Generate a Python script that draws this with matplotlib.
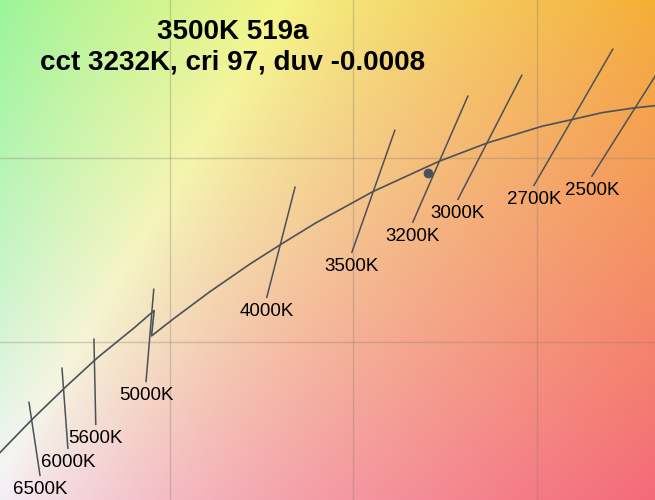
import numpy as np
import matplotlib.pyplot as plt

# chromaticity (CIE 1931 x, y) window shown in the picture
x_lim = (0.3037, 0.4822)
y_lim = (0.3069, 0.4431)

# daylight locus (left of 5000K) and planckian locus (5000K and below)
day_x = [0.2990, 0.3054, 0.3128, 0.3217, 0.3302, 0.3324, 0.3405, 0.3457]
day_y = [0.3149, 0.3216, 0.3292, 0.3378, 0.3456, 0.3474, 0.3540, 0.3585]
planck_x = [0.3450, 0.3509, 0.3607, 0.3720, 0.3805, 0.3898, 0.4053, 0.4232,
            0.4366, 0.4514, 0.4599, 0.4677, 0.4765, 0.4857]
planck_y = [0.3516, 0.3562, 0.3635, 0.3713, 0.3767, 0.3824, 0.3909, 0.3991,
            0.4042, 0.4087, 0.4106, 0.4124, 0.4137, 0.4147]

# isotherm lines: (top x, top y) -> (bottom x, bottom y)
iso_labels = ['6500K', '6000K', '5600K', '5000K', '4000K', '3500K',
              '3200K', '3000K', '2700K', '2500K']
iso_top_x = [0.3116, 0.3206, 0.3293, 0.3456, 0.3841, 0.4113, 0.4312, 0.4459, 0.4707, 0.4879]
iso_top_y = [0.3335, 0.3428, 0.3507, 0.3643, 0.3921, 0.4076, 0.4169, 0.4226, 0.4297, 0.4313]
iso_bot_x = [0.3146, 0.3222, 0.3298, 0.3435, 0.3764, 0.3996, 0.4162, 0.4285, 0.4492, 0.4650]
iso_bot_y = [0.3136, 0.3210, 0.3275, 0.3392, 0.3621, 0.3744, 0.3826, 0.3888, 0.3926, 0.3951]

# measured sample
sample_x = 0.4203
sample_y = 0.3959

title1 = '3500K 519a'
title2 = 'cct 3232K, cri 97, duv -0.0008'

plt.rcParams['font.family'] = ['Liberation Sans', 'DejaVu Sans']

# colour background from xy -> sRGB
xs = np.linspace(x_lim[0], x_lim[1], 500)
ys = np.linspace(y_lim[0], y_lim[1], 400)
gx, gy = np.meshgrid(xs, ys)
X = gx / gy
Y = np.ones_like(gx)
Z = (1 - gx - gy) / gy
M = np.array([[3.2406, -1.5372, -0.4986],
              [-0.9689, 1.8758, 0.0415],
              [0.0557, -0.2040, 1.0570]])
rgb = np.einsum('ij,jyx->yxi', M, np.stack([X, Y, Z]))
rgb = np.clip(rgb, 0, None)
rgb[..., 2] *= 0.88  # warmer white, like the reference
rgb = rgb / rgb.max(axis=2, keepdims=True)
rgb = np.where(rgb <= 0.0031308, 12.92 * rgb, 1.055 * rgb ** (1 / 2.4) - 0.055)
rgb = rgb * 0.88 + 0.08

fig = plt.figure(figsize=(6.55, 5.0), dpi=100)
ax = fig.add_axes([0, 0, 1, 1])
ax.imshow(rgb, extent=[x_lim[0], x_lim[1], y_lim[0], y_lim[1]],
          origin='lower', aspect='auto', interpolation='bilinear', zorder=0)

line_col = '#4b5159'
ax.plot(day_x + planck_x, day_y + planck_y, color=line_col, lw=1.2, zorder=3)

for lab, tx, ty, bx, by in zip(iso_labels, iso_top_x, iso_top_y, iso_bot_x, iso_bot_y):
    ax.plot([tx, bx], [ty, by], color=line_col, lw=1.1, zorder=3)
    ax.annotate(lab, (bx, by), xytext=(0, -14), textcoords='offset pixels',
                ha='center', va='center', fontsize=13.5, color='black', zorder=4)

ax.plot(sample_x, sample_y, 'o', color=line_col, markersize=6, zorder=4)

ax.set_xlim(x_lim)
ax.set_ylim(y_lim)
ax.set_xticks([0.35, 0.40, 0.45])
ax.set_yticks([0.35, 0.40])
ax.grid(True, color='#8a8070', alpha=0.35, lw=1)
ax.set_axisbelow(False)
ax.tick_params(length=0, labelbottom=False, labelleft=False)
for s in ax.spines.values():
    s.set_visible(False)

fig.text(233 / 655, 1 - 32 / 500, title1, ha='center', va='center',
         fontsize=20, fontweight='bold')
fig.text(233 / 655, 1 - 63 / 500, title2, ha='center', va='center',
         fontsize=20, fontweight='bold')

fig.savefig('out.png', dpi=100)
